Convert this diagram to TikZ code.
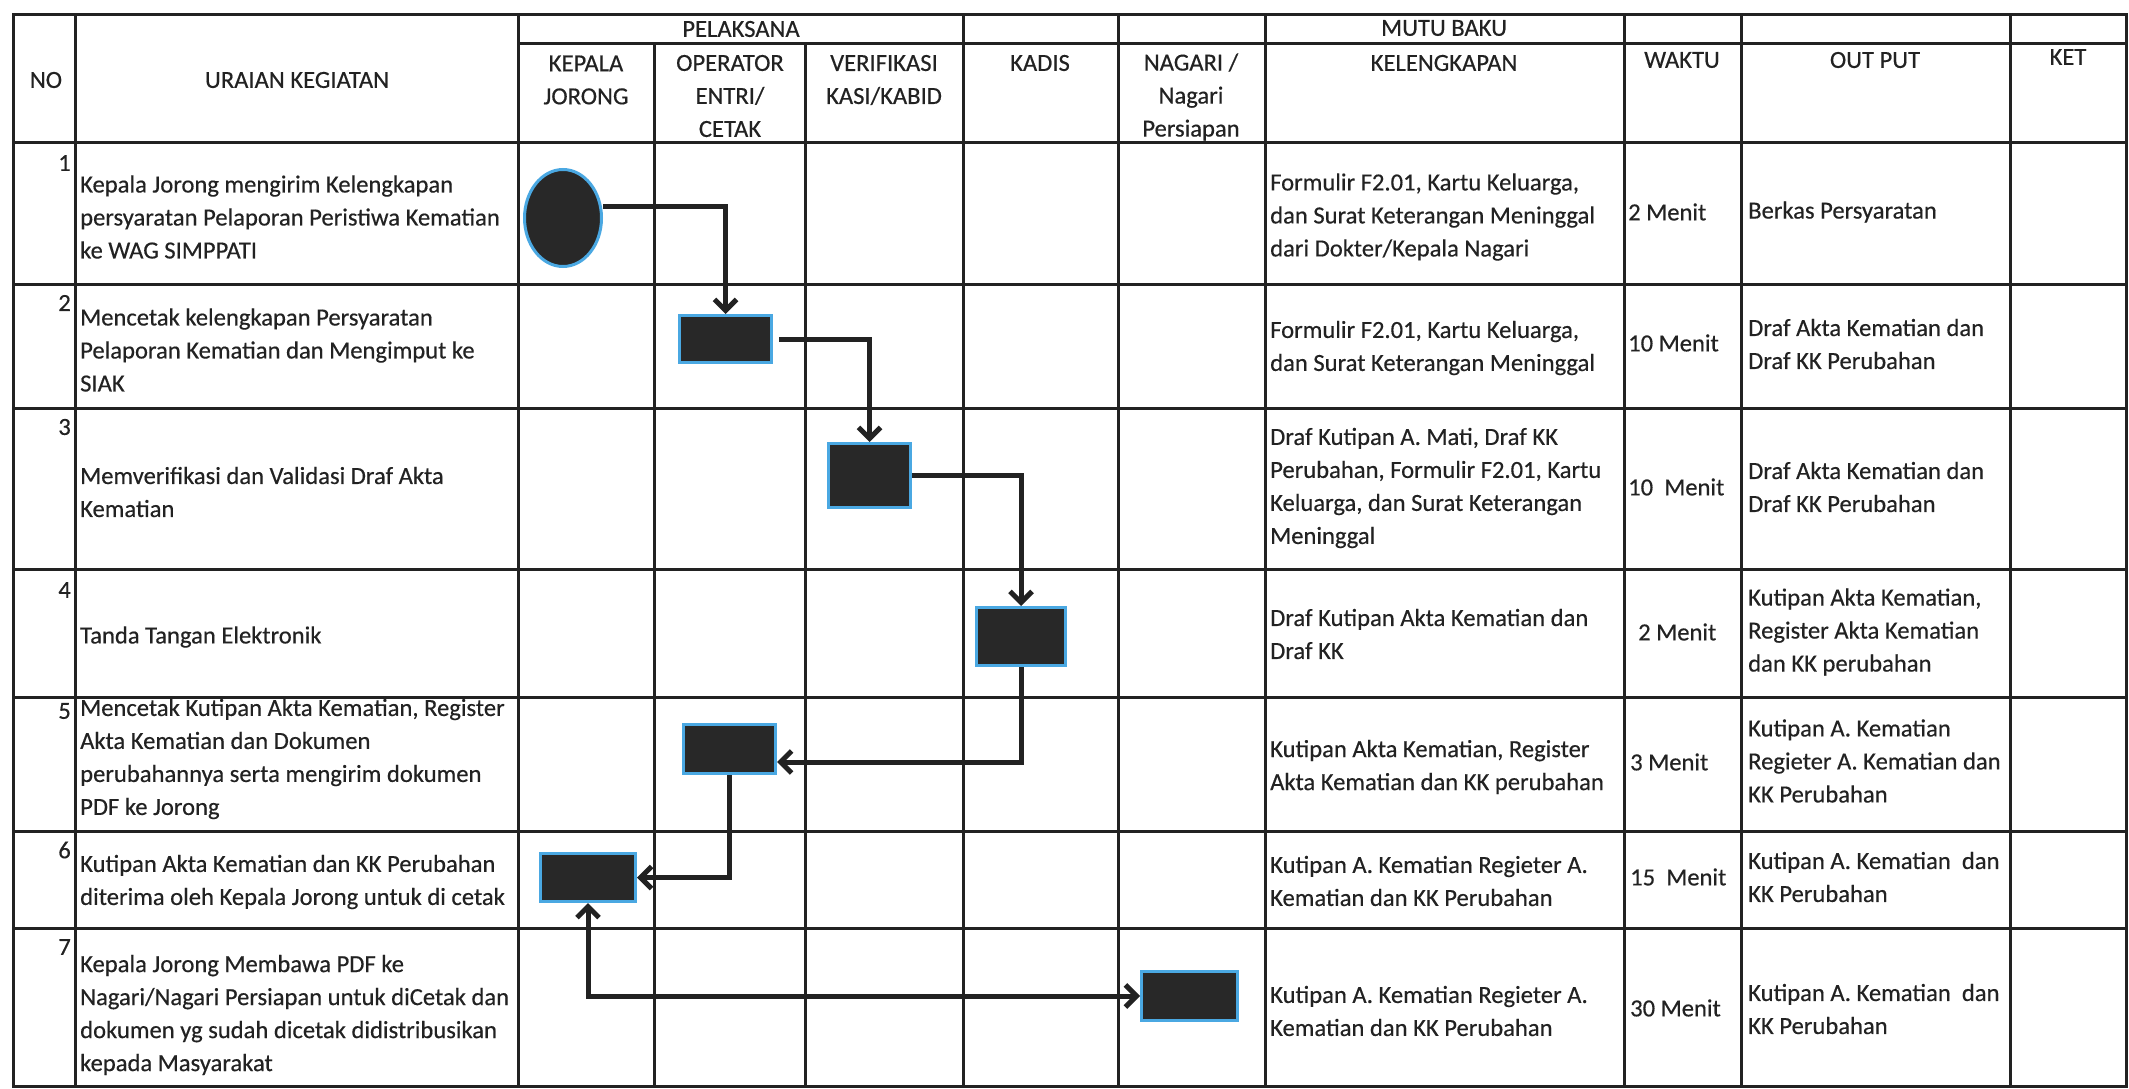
\documentclass[tikz,border=0pt]{standalone}
\usepackage{fontspec}
\setmainfont{Carlito}
\newfontfamily\scanfont{Carlito}[FakeBold=0.4]
\usetikzlibrary{arrows.meta,shapes.geometric}
\definecolor{ink}{HTML}{222222}
\definecolor{edgeblue}{HTML}{4AA8E2}
\definecolor{fillk}{HTML}{282828}
\begin{document}
\begin{tikzpicture}[x=1pt,y=-1pt,
  gridline/.style={line width=3pt, draw=ink},
  txt/.style={font=\scanfont\fontsize{24.6}{33}\selectfont, text=ink, inner sep=0pt, align=left, anchor=west},
  hdr/.style={font=\scanfont\fontsize{24.6}{33}\selectfont, text=ink, inner sep=0pt, align=center},
  num/.style={font=\scanfont\fontsize{24.6}{33}\selectfont, text=ink, inner sep=0pt, anchor=east},
  actbox/.style={rectangle, fill=fillk, draw=edgeblue, line width=3pt, inner sep=0pt},
  startshape/.style={ellipse, fill=fillk, draw=edgeblue, line width=3pt, inner sep=0pt},
  tipb/.tip={Straight Barb[length=11pt,width=22pt]},
  flow/.style={draw=ink, line width=5pt, -tipb},
  flowboth/.style={draw=ink, line width=5pt, tipb-tipb}
]
\useasboundingbox (0,0) rectangle (2129,1089);
\fill[white] (0,0) rectangle (2129,1089);

% grid
\draw[gridline] (13,15) rectangle (2126,1086);
\foreach \y in {143,284,408,569,697,831,928} \draw[gridline] (13,\y) -- (2126,\y);
\draw[gridline] (518,44) -- (2126,44);
\foreach \x in {75,518,963,1118,1265,1624,1741,2010} \draw[gridline] (\x,15) -- (\x,1086);
\foreach \x in {654,805} \draw[gridline] (\x,44) -- (\x,1086);

% header
\node[hdr] (hno) at (46,80) {NO};
\node[hdr] (hur) at (297,80) {URAIAN KEGIATAN};
\node[hdr] (hpel) at (741,29) {PELAKSANA};
\node[hdr] (hmutu) at (1444,28) {MUTU BAKU};
\node[hdr] (hkep) at (586,80) {KEPALA\\JORONG};
\node[hdr] (hop) at (730,96) {OPERATOR\\ENTRI/\\CETAK};
\node[hdr] (hver) at (884,80) {VERIFIKASI\\KASI/KABID};
\node[hdr] (hkad) at (1040,63) {KADIS};
\node[hdr] (hnag) at (1191,97) {NAGARI /\\Nagari\\Persiapan};
\node[hdr] (hkel) at (1444,63) {KELENGKAPAN};
\node[hdr] (hwak) at (1682,60) {WAKTU};
\node[hdr] (hout) at (1875,60) {OUT PUT};
\node[hdr] (hket) at (2068,57) {KET};

% numbers
\node[num] (n1) at (71,163) {1};
\node[num] (n2) at (71,303) {2};
\node[num] (n3) at (71,427) {3};
\node[num] (n4) at (71,590) {4};
\node[num] (n5) at (71,711) {5};
\node[num] (n6) at (71,850) {6};
\node[num] (n7) at (71,947) {7};

% uraian
\node[txt] (u1) at (80,217) {Kepala Jorong mengirim Kelengkapan\\persyaratan Pelaporan Peristiwa Kematian\\ke WAG SIMPPATI};
\node[txt] (u2) at (80,350) {Mencetak kelengkapan Persyaratan\\Pelaporan Kematian dan Mengimput ke\\SIAK};
\node[txt] (u3) at (80,492) {Memverifikasi dan Validasi Draf Akta\\Kematian};
\node[txt] (u4) at (80,637) {Tanda Tangan Elektronik};
\node[txt] (u5) at (80,759) {Mencetak Kutipan Akta Kematian, Register\\Akta Kematian dan Dokumen\\perubahannya serta mengirim dokumen\\PDF ke Jorong};
\node[txt] (u6) at (80,882) {Kutipan Akta Kematian dan KK Perubahan\\diterima oleh Kepala Jorong untuk di cetak};
\node[txt] (u7) at (80,1015) {Kepala Jorong Membawa PDF ke\\Nagari/Nagari Persiapan untuk diCetak dan\\dokumen yg sudah dicetak didistribusikan\\kepada Masyarakat};

% kelengkapan
\node[txt] (k1) at (1270,217) {Formulir F2.01, Kartu Keluarga,\\dan Surat Keterangan Meninggal\\dari Dokter/Kepala Nagari};
\node[txt] (k2) at (1270,348) {Formulir F2.01, Kartu Keluarga,\\dan Surat Keterangan Meninggal};
\node[txt] (k3) at (1270,488) {Draf Kutipan A. Mati, Draf KK\\Perubahan, Formulir F2.01, Kartu\\Keluarga, dan Surat Keterangan\\Meninggal};
\node[txt] (k4) at (1270,634) {Draf Kutipan Akta Kematian dan\\Draf KK};
\node[txt] (k5) at (1270,767) {Kutipan Akta Kematian, Register\\Akta Kematian dan KK perubahan};
\node[txt] (k6) at (1270,881) {Kutipan A. Kematian Regieter A.\\Kematian dan KK Perubahan};
\node[txt] (k7) at (1270,1011) {Kutipan A. Kematian Regieter A.\\Kematian dan KK Perubahan};

% waktu
\node[txt] (w1) at (1628,212) {2 Menit};
\node[txt] (w2) at (1628,343) {10 Menit};
\node[txt] (w3) at (1628,487) {10~ Menit};
\node[txt] (w4) at (1638,632) {2 Menit};
\node[txt] (w5) at (1630,762) {3 Menit};
\node[txt] (w6) at (1630,877) {15~ Menit};
\node[txt] (w7) at (1630,1008) {30 Menit};

% output
\node[txt] (o1) at (1748,212) {Berkas Persyaratan};
\node[txt] (o2) at (1748,344) {Draf Akta Kematian dan\\Draf KK Perubahan};
\node[txt] (o3) at (1748,487) {Draf Akta Kematian dan\\Draf KK Perubahan};
\node[txt] (o4) at (1748,632) {Kutipan Akta Kematian,\\Register Akta Kematian\\dan KK perubahan};
\node[txt] (o5) at (1748,761) {Kutipan A. Kematian\\Regieter A. Kematian dan\\KK Perubahan};
\node[txt] (o6) at (1748,877) {Kutipan A. Kematian~ dan\\KK Perubahan};
\node[txt] (o7) at (1748,1009) {Kutipan A. Kematian~ dan\\KK Perubahan};

% flow shapes
\node[startshape, minimum width=77pt, minimum height=97pt] (e1) at (563,218) {};
\node[actbox, minimum width=92pt, minimum height=47pt] (b2) at (725.5,339) {};
\node[actbox, minimum width=82pt, minimum height=64pt] (b3) at (869.5,475.5) {};
\node[actbox, minimum width=89pt, minimum height=58pt] (b4) at (1021,636.5) {};
\node[actbox, minimum width=92pt, minimum height=49pt] (b5) at (729.5,749) {};
\node[actbox, minimum width=95pt, minimum height=48pt] (b6) at (588,877.5) {};
\node[actbox, minimum width=96pt, minimum height=49pt] (b7) at (1189.5,996) {};

% connectors
\draw[flow] ([yshift=12pt]e1.east) -| (b2.north);
\draw[flow] ([xshift=6pt]b2.east) -| (b3.north);
\draw[flow] (b3.east) -| (b4.north);
\draw[flow] (b4.south) |- ([yshift=-13pt]b5.east);
\draw[flow] (b5.south) |- (b6.east);
\draw[flowboth] (b6.south) |- (b7.west);
\end{tikzpicture}
\end{document}
